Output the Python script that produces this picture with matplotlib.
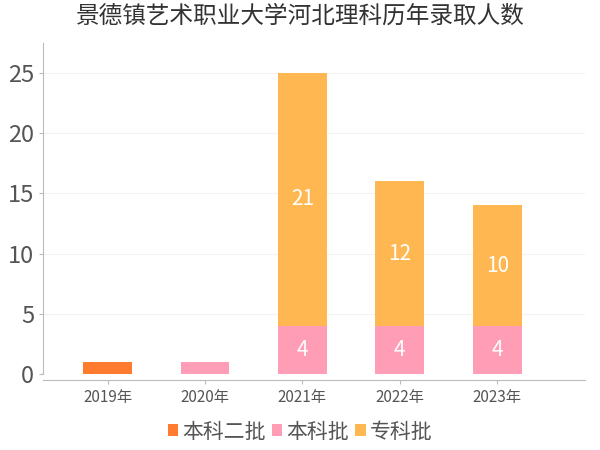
import matplotlib.pyplot as plt
import numpy as np

plt.rcParams['font.family'] = ['Noto Sans CJK SC', 'DejaVu Sans']

years = ['2019年', '2020年', '2021年', '2022年', '2023年']
series_names = ['本科二批', '本科批', '专科批']
benke2 = [1, 0, 0, 0, 0]
benke = [0, 1, 4, 4, 4]
zhuanke = [0, 0, 21, 12, 10]
colors = ['#FF7B30', '#FF9DB6', '#FFB751']

fig = plt.figure(figsize=(6, 4.5), dpi=100)
ax = fig.add_axes([0.072, 0.169, 0.903, 0.736])

x = np.arange(len(years))
w = 0.5
bottom = np.zeros(len(years))
for name, vals, c in zip(series_names, [benke2, benke, zhuanke], colors):
    vals = np.array(vals)
    ax.bar(x, vals, w, bottom=bottom, color=c, label=name, zorder=3)
    for xi, b, v in zip(x, bottom, vals):
        if v >= 3:
            ax.text(xi, b + v / 2, str(v), ha='center', va='center',
                    color='white', fontsize=15, zorder=4)
    bottom += vals

ax.set_xlim(-0.66, 4.9)
ax.set_ylim(0, 27.5)
ax.set_yticks([0, 5, 10, 15, 20, 25])
ax.set_xticks(x)
ax.set_xticklabels(years)
ax.grid(axis='y', color='#f2f2f2', linewidth=0.8, zorder=0)

for s in ['top', 'right']:
    ax.spines[s].set_visible(False)
ax.spines['left'].set_color('#bbbbbb')
ax.spines['bottom'].set_color('#bbbbbb')
ax.spines['bottom'].set_position(('outward', 4))
ax.tick_params(axis='y', colors='#bbbbbb', labelcolor='#555555', labelsize=17, length=3)
ax.tick_params(axis='x', colors='#bbbbbb', labelcolor='#555555', labelsize=11, length=3)

fig.suptitle('景德镇艺术职业大学河北理科历年录取人数', fontsize=17, color='#333333', y=0.99)

fig.legend(loc='lower center', bbox_to_anchor=(0.5, -0.025), ncol=3, frameon=False,
           fontsize=15, handlelength=0.5, handleheight=0.5, handletextpad=0.2,
           columnspacing=0.3, labelcolor='#555555')

fig.savefig('out.png')
